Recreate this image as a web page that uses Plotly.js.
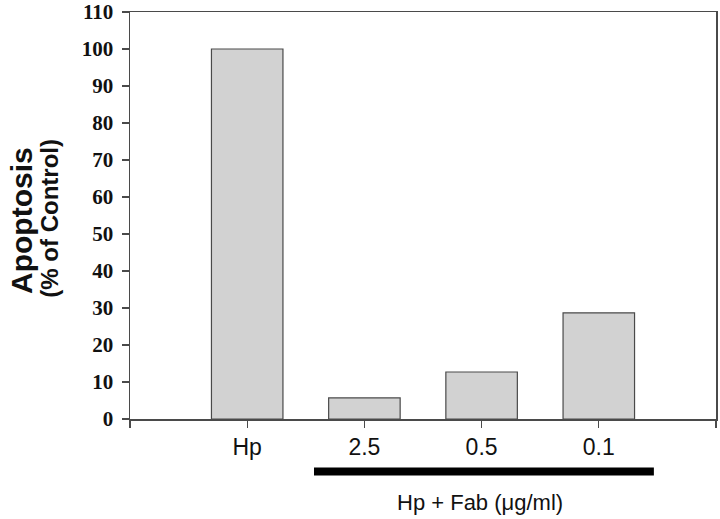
<!DOCTYPE html>
<html>
<head>
<meta charset="utf-8">
<script src="https://cdn.plot.ly/plotly-3.0.1.min.js"></script>
<style>
  html, body { margin: 0; padding: 0; background: #fff; }
  #chart { width: 720px; height: 519px; }
</style>
</head>
<body>
<div id="chart"></div>
<script>
const categories = ["Hp", "2.5", "0.5", "0.1"];
const apoptosis = [100, 5.7, 12.7, 28.7];
const yTicks = [0, 10, 20, 30, 40, 50, 60, 70, 80, 90, 100, 110];

// bars sit on whole-number slots 1..4, with an empty slot at each end
const xSlots = categories.map((_, i) => i + 1);
const xTickVals = [0, ...xSlots, categories.length + 1];
const xTickText = ["", ...categories, ""];

const AXIS_COLOR = "#4a4a4a";

const barTrace = {
  type: "bar",
  x: xSlots,
  y: apoptosis,
  width: 0.61,
  marker: {
    color: "#d2d2d2",
    line: { color: "#4a4a4a", width: 1.2 },
  },
  hoverinfo: "skip",
  showlegend: false,
};

const layout = {
  width: 720,
  height: 519,
  paper_bgcolor: "#ffffff",
  plot_bgcolor: "#ffffff",
  margin: { l: 130, r: 4, t: 12, b: 100 },
  bargap: 0,
  xaxis: {
    range: [0, categories.length + 1],
    tickmode: "array",
    tickvals: xTickVals,
    ticktext: xTickText,
    ticks: "outside",
    ticklen: 7,
    tickwidth: 1.2,
    tickcolor: AXIS_COLOR,
    showline: true,
    linecolor: AXIS_COLOR,
    linewidth: 1.5,
    mirror: true,
    showgrid: false,
    zeroline: false,
    tickfont: { family: "Liberation Sans, Arial, sans-serif", size: 23, color: "#111" },
  },
  yaxis: {
    range: [0, 110],
    tickmode: "array",
    tickvals: yTicks,
    ticks: "outside",
    ticklen: 7,
    tickwidth: 1.2,
    tickcolor: AXIS_COLOR,
    showline: true,
    linecolor: AXIS_COLOR,
    linewidth: 1.5,
    mirror: true,
    showgrid: false,
    zeroline: false,
    ticklabelstandoff: 4,
    tickfont: { family: "Liberation Serif, Times New Roman, serif", size: 21, color: "#111", weight: "bold" },
  },
  annotations: [
    {
      text: "<b>Apoptosis</b>",
      xref: "paper",
      yref: "paper",
      x: -0.184,
      y: 0.487,
      xanchor: "center",
      yanchor: "middle",
      textangle: -90,
      showarrow: false,
      font: { family: "Liberation Sans, Arial, sans-serif", size: 30, color: "#111" },
    },
    {
      text: "<b>(% of Control)</b>",
      xref: "paper",
      yref: "paper",
      x: -0.137,
      y: 0.494,
      xanchor: "center",
      yanchor: "middle",
      textangle: -90,
      showarrow: false,
      font: { family: "Liberation Sans, Arial, sans-serif", size: 24, color: "#111" },
    },
    {
      text: "Hp + Fab (\u03bcg/ml)",
      xref: "x",
      yref: "paper",
      x: 2.99,
      y: -0.204,
      xanchor: "center",
      yanchor: "middle",
      showarrow: false,
      font: { family: "Liberation Sans, Arial, sans-serif", size: 22, color: "#111" },
    },
  ],
  shapes: [
    {
      type: "rect",
      xref: "x",
      yref: "paper",
      x0: 1.57,
      x1: 4.47,
      y0: -0.119,
      y1: -0.139,
      fillcolor: "#000",
      line: { width: 0 },
    },
  ],
};

Plotly.newPlot("chart", [barTrace], layout, { displayModeBar: false, staticPlot: true });
</script>
</body>
</html>
